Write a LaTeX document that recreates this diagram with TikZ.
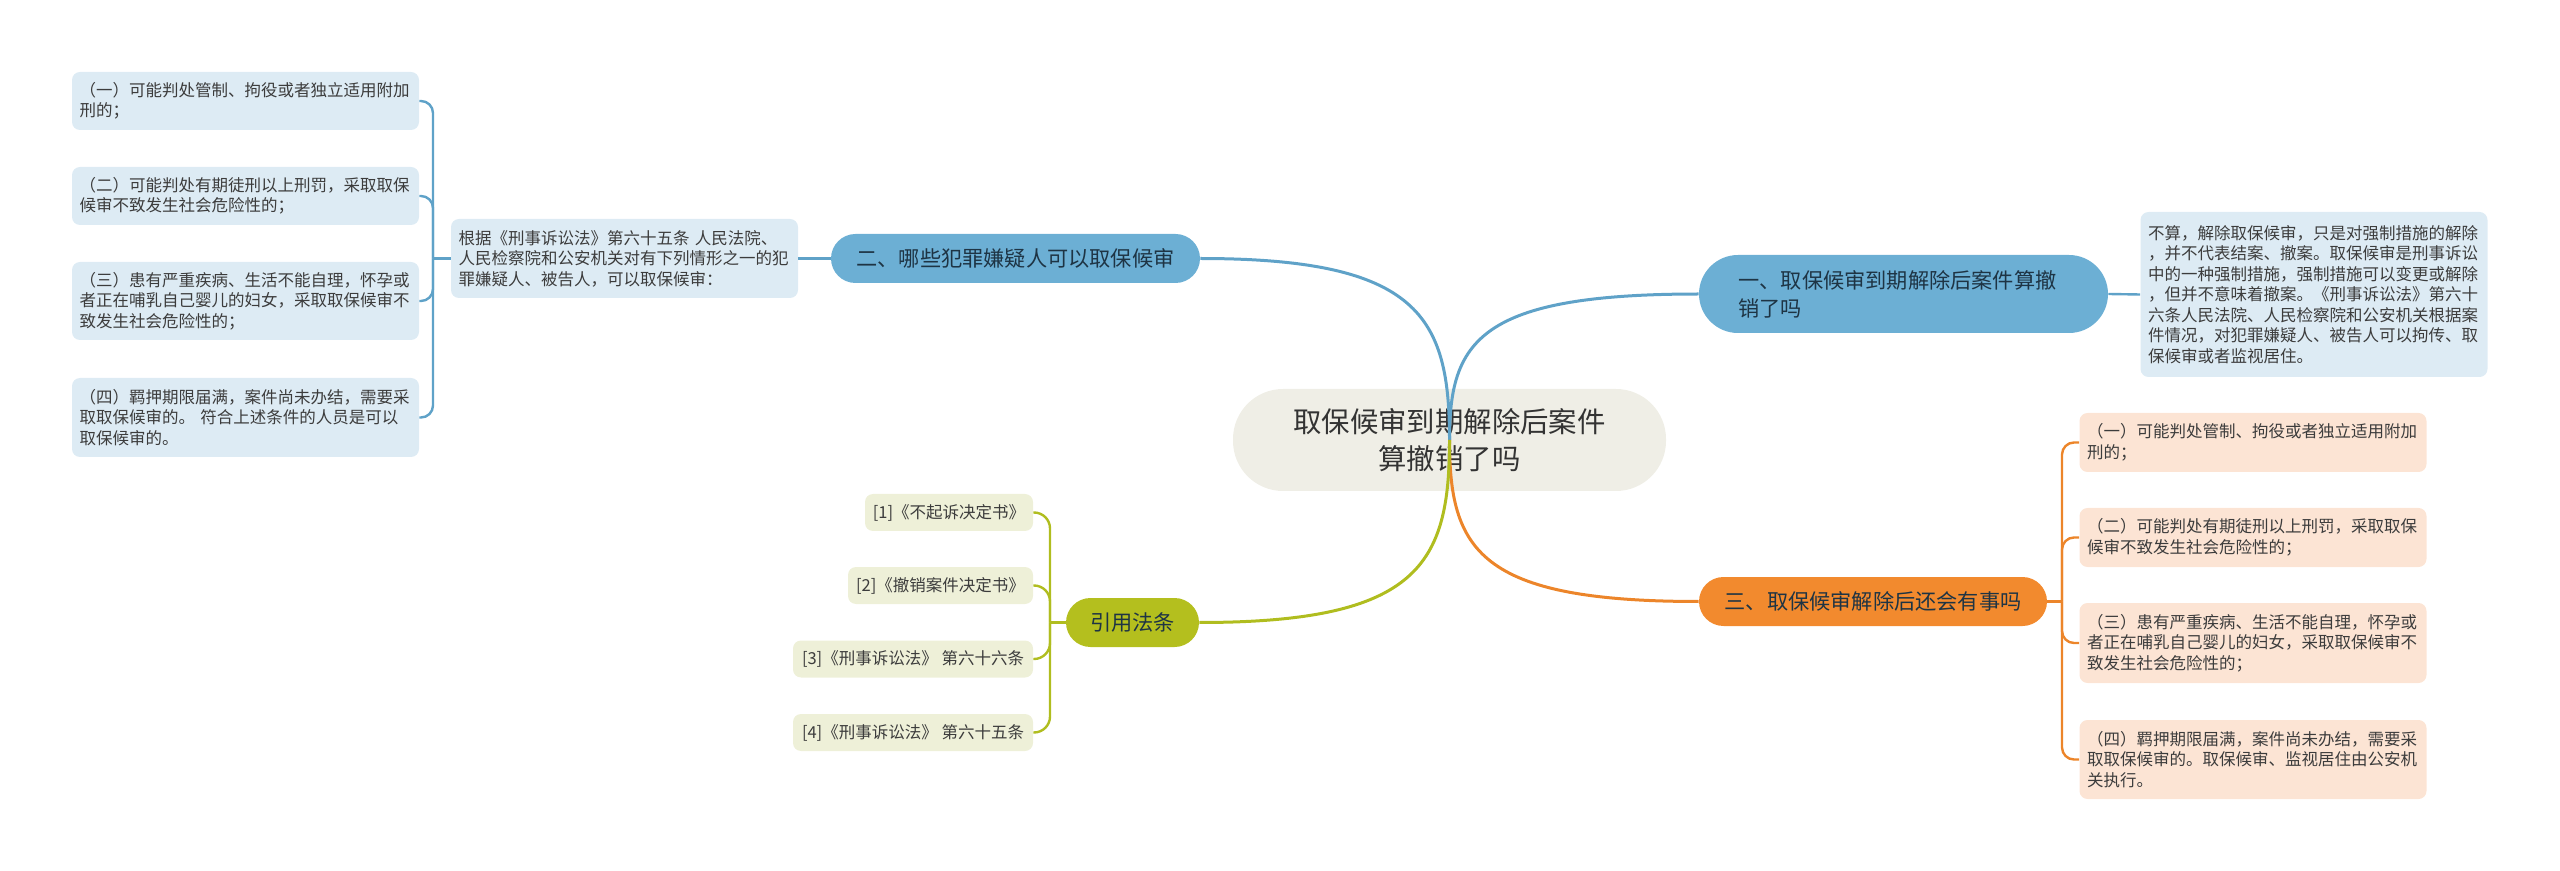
\documentclass[tikz,border=0pt]{standalone}
\usepackage{fontspec}
\setmainfont{Noto Sans CJK SC}
\definecolor{rootfill}{HTML}{EFEEE6}
\definecolor{bluefill}{HTML}{6CAFD4}
\definecolor{bluelight}{HTML}{DDEBF4}
\definecolor{blueline}{HTML}{5FA2C8}
\definecolor{orangefill}{HTML}{F28A2E}
\definecolor{orangelight}{HTML}{FCE4D4}
\definecolor{orangeline}{HTML}{EC852A}
\definecolor{olivefill}{HTML}{B4BF1E}
\definecolor{olivelight}{HTML}{EEF0D8}
\definecolor{oliveline}{HTML}{B0BD1F}
\definecolor{txt}{HTML}{333333}
\definecolor{dtxt}{HTML}{3C3C3C}
\definecolor{btxt}{HTML}{1E3444}
\tikzset{
  rootnode/.style={fill=rootfill, rounded corners=25pt, minimum width=216.5pt, minimum height=51pt, align=center, font=\fontsize{14.2}{18.5}\selectfont, text=txt, inner sep=0pt},
  branch/.style={rounded corners=12.25pt, minimum height=24.5pt, font=\fontsize{10.6}{14}\selectfont, text=btxt, inner sep=0pt, align=center},
  detail/.style={rounded corners=4pt, font=\fontsize{8.25}{10.25}\selectfont, text=dtxt, inner xsep=3.75pt, inner ysep=0pt, text width=166pt, align=left},
  refbox/.style={rounded corners=4pt, fill=olivelight, font=\fontsize{8.25}{10.25}\selectfont, text=dtxt, inner sep=0pt, minimum height=18.5pt},
  mainline/.style={line width=1.5pt},
  subline/.style={line width=1.2pt, rounded corners=6pt},
}
\begin{document}
\begin{tikzpicture}[x=0.5pt,y=-0.5pt]
\useasboundingbox (0,0) rectangle (2560,871);
% root
\node[rootnode] (root) at (1449.5,440) {取保候审到期解除后案件\\算撤销了吗};
% branch 1
\node[branch, fill=bluefill, rounded corners=19.5pt, minimum width=204.5pt, minimum height=39pt, text width=165pt, align=left] (b1) at (1903.5,294) {一、取保候审到期解除后案件算撤\\销了吗};
\node[detail, fill=bluelight, minimum height=82.5pt] (d1) at (2314,294.5) {不算，解除取保候审，只是对强制措施的解除\\，并不代表结案、撤案。取保候审是刑事诉讼\\中的一种强制措施，强制措施可以变更或解除\\，但并不意味着撤案。《刑事诉讼法》第六十\\六条人民法院、人民检察院和公安机关根据案\\件情况，对犯罪嫌疑人、被告人可以拘传、取\\保候审或者监视居住。};
% branch 2
\node[branch, fill=bluefill, minimum width=184.5pt] (b2) at (1015.5,258.5) {二、哪些犯罪嫌疑人可以取保候审};
\node[detail, fill=bluelight, minimum height=39.5pt] (d2) at (624.5,258.5) {根据《刑事诉讼法》第六十五条 人民法院、\\人民检察院和公安机关对有下列情形之一的犯\\罪嫌疑人、被告人，可以取保候审：};
\node[detail, fill=bluelight, minimum height=29pt] (L1) at (245.5,101) {（一）可能判处管制、拘役或者独立适用附加\\刑的；};
\node[detail, fill=bluelight, minimum height=29pt] (L2) at (245.5,196) {（二）可能判处有期徒刑以上刑罚，采取取保\\候审不致发生社会危险性的；};
\node[detail, fill=bluelight, minimum height=39pt] (L3) at (245.5,301) {（三）患有严重疾病、生活不能自理，怀孕或\\者正在哺乳自己婴儿的妇女，采取取保候审不\\致发生社会危险性的；};
\node[detail, fill=bluelight, minimum height=39.5pt] (L4) at (245.5,417.5) {（四）羁押期限届满，案件尚未办结，需要采\\取取保候审的。 符合上述条件的人员是可以\\取保候审的。};
% branch 3
\node[branch, fill=orangefill, minimum width=174pt] (b3) at (1873,601.5) {三、取保候审解除后还会有事吗};
\node[detail, fill=orangelight, minimum height=29.5pt] (R1) at (2253,442.5) {（一）可能判处管制、拘役或者独立适用附加\\刑的；};
\node[detail, fill=orangelight, minimum height=29.5pt] (R2) at (2253,537.5) {（二）可能判处有期徒刑以上刑罚，采取取保\\候审不致发生社会危险性的；};
\node[detail, fill=orangelight, minimum height=40pt] (R3) at (2253,643) {（三）患有严重疾病、生活不能自理，怀孕或\\者正在哺乳自己婴儿的妇女，采取取保候审不\\致发生社会危险性的；};
\node[detail, fill=orangelight, minimum height=39.5pt] (R4) at (2253,759.5) {（四）羁押期限届满，案件尚未办结，需要采\\取取保候审的。取保候审、监视居住由公安机\\关执行。};
% branch 4
\node[branch, fill=olivefill, minimum width=66.5pt] (b4) at (1132.5,622.5) {引用法条};
\node[refbox, minimum width=84pt] (F1) at (949,512.5) {[1]《不起诉决定书》};
\node[refbox, minimum width=92.5pt] (F2) at (940.5,585.5) {[2]《撤销案件决定书》};
\node[refbox, minimum width=120pt] (F3) at (913,659) {[3]《刑事诉讼法》 第六十六条};
\node[refbox, minimum width=120pt] (F4) at (913,732.5) {[4]《刑事诉讼法》 第六十五条};
% main connectors
\draw[mainline, blueline] (root.center) .. controls +(0,-99) and +(-220,0) .. (b1.west);
\draw[mainline, blueline] (root.center) .. controls +(0,-123) and +(219,0) .. (b2.east);
\draw[mainline, orangeline] (root.center) .. controls +(0,110) and +(-220,0) .. (b3.west);
\draw[mainline, oliveline] (root.center) .. controls +(0,124) and +(220,0) .. (b4.east);
% branch 1 detail
\draw[subline, blueline] (b1.east) -- (d1.west);
% branch 2 details
\draw[subline, blueline] (b2.west) -- (d2.east);
\coordinate (j2) at (433,258.5);
\draw[subline, blueline] (d2.west) -- (j2);
\foreach \n in {L1,L2,L3,L4} \draw[subline, blueline] (j2) |- (\n.east);
% branch 3 details
\coordinate (j3) at (2062,601.5);
\draw[subline, orangeline] (b3.east) -- (j3);
\foreach \n in {R1,R2,R3,R4} \draw[subline, orangeline] (j3) |- (\n.west);
% branch 4 details
\coordinate (j4) at (1050,622.5);
\draw[subline, oliveline] (b4.west) -- (j4);
\foreach \n in {F1,F2,F3,F4} \draw[subline, oliveline, rounded corners=8pt] (j4) |- (\n.east);
\end{tikzpicture}
\end{document}
